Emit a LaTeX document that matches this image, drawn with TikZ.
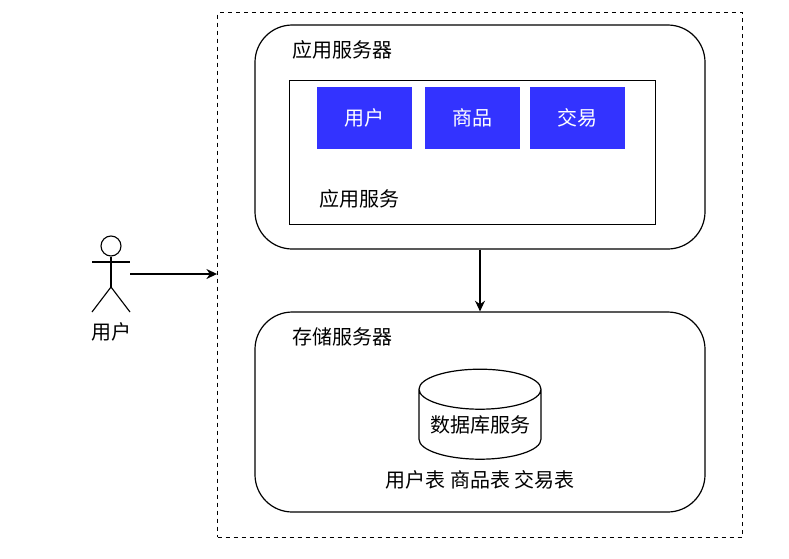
\documentclass[tikz,border=0pt]{standalone}
\usepackage{fontspec}
\setmainfont{Noto Sans CJK SC}
\usetikzlibrary{arrows.meta, positioning, shapes.geometric, calc}
\definecolor{modblue}{RGB}{51, 51, 255}
\tikzset{
    server/.style = {draw, line width=0.9pt, rounded corners=28pt, minimum width=337.5pt, inner sep=0pt},
    module/.style = {fill=modblue, text=white, minimum width=71pt, minimum height=46.5pt, inner sep=0pt, font=\fontsize{15}{17}\selectfont},
    label/.style = {font=\fontsize{15}{17}\selectfont, inner sep=0pt},
    limb/.style = {line width=0.85pt},
    link/.style = {line width=0.85pt, -{Stealth[length=8pt, width=7.5pt]}}
}

\begin{document}
\begin{tikzpicture}[x=0.75pt, y=-0.75pt, node distance=9.5pt and 9.5pt]
  \useasboundingbox (0,0) rectangle (789,558);

  \node[draw, dashed, line width=0.9pt, minimum width=393.5pt, minimum height=393.5pt, inner sep=0pt] (frame) at (480,275) {};

  % application server
  \node[server, minimum height=168pt] (appserver) at (480,137) {};
  \node[label] (applabel) at (342,50) {应用服务器};
  \node[draw, line width=0.9pt, minimum width=274pt, minimum height=107.5pt, inner sep=0pt] (appservice) at (472.5,152.5) {};
  \node[label] (servicelabel) at (359,199) {应用服务};
  \node[module] (user) at (364.5,118) {用户};
  \node[module, right=of user] (goods) {商品};
  \node[module, right=7.5pt of goods] (trade) {交易};

  % storage server
  \node[server, minimum height=150pt] (storeserver) at (480,412) {};
  \node[label] (storelabel) at (342,337) {存储服务器};
  \node[draw, cylinder, shape border rotate=90, shape aspect=0.5, line width=0.9pt, minimum width=91.5pt, minimum height=67.5pt, inner sep=0pt, font=\fontsize{15}{17}\selectfont] (db) at (480,424.5) {\makebox[60pt]{数据库服务}};
  \node[label] (tables) at (480,480) {用户表 商品表 交易表};

  % actor
  \node[draw, circle, line width=0.85pt, minimum size=15pt, inner sep=0pt] (head) at (111,246) {};
  \coordinate (armleft) at (92,262);
  \coordinate (armright) at (130,262);
  \coordinate (hip) at (111,287);
  \coordinate (footleft) at (92,312);
  \coordinate (footright) at (130,312);
  \coordinate (start) at (130,274);
  \draw[limb] (head) -- (hip);
  \draw[limb] (armleft) -- (armright);
  \draw[limb] (footleft) -- (hip) -- (footright);
  \node[label] (actorlabel) at (111,332) {用户};

  \draw[link] (start) -- (start -| frame.west);
  \draw[link] (appserver) -- (storeserver);
\end{tikzpicture}
\end{document}
